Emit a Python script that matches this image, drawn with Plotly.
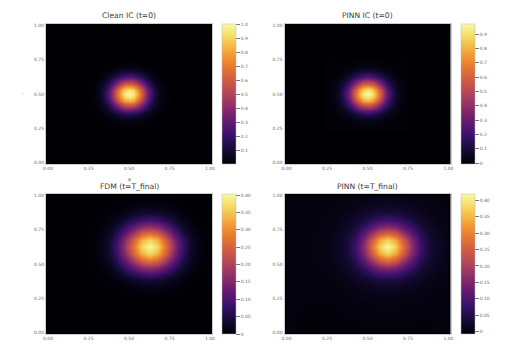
import plotly.graph_objects as go

# Grid coordinates of the hand-read cells
ic_x = [0.25, 0.275, 0.30, 0.325, 0.35, 0.375, 0.40, 0.425, 0.45, 0.475, 0.50,
        0.525, 0.55, 0.575, 0.60, 0.625, 0.65, 0.675, 0.70, 0.725, 0.75]
ic_y = ic_x
fdm_x = [0.275, 0.325, 0.375, 0.425, 0.475, 0.525, 0.575, 0.625,
         0.675, 0.725, 0.775, 0.825, 0.875, 0.925, 0.975]
fdm_y = fdm_x
pinn_x = [0.025, 0.075, 0.125, 0.175, 0.225, 0.275, 0.325, 0.375, 0.425, 0.475,
          0.525, 0.575, 0.625, 0.675, 0.725, 0.775, 0.825, 0.875, 0.925, 0.975]
pinn_y = pinn_x

# The first three fields look mirror-symmetric, so only the lower left quadrant
# is kept (outer edge first, peak last) and unfolded below.
clean_ic_quadrant = [
    [0, 0, 0, 0, 0, .001, .002, .003, .004, .005, .005],
    [0, 0, 0, 0, .002, .004, .006, .01, .01, .01, .01],
    [0, 0, .001, .002, .005, .01, .01, .02, .03, .03, .03],
    [0, 0, .002, .005, .01, .02, .03, .05, .06, .07, .07],
    [0, .002, .005, .01, .02, .04, .06, .09, .12, .14, .15],
    [.001, .004, .01, .02, .04, .07, .11, .16, .21, .25, .27],
    [.002, .006, .01, .03, .06, .11, .18, .27, .35, .41, .43],
    [.003, .01, .02, .05, .09, .16, .27, .38, .50, .59, .62],
    [.004, .01, .03, .06, .12, .21, .35, .50, .65, .77, .81],
    [.005, .01, .03, .07, .14, .25, .41, .59, .77, .90, .95],
    [.005, .01, .03, .07, .15, .27, .43, .62, .81, .95, 1.0],
]

pinn_ic_quadrant = [
    [0, 0, 0, 0, 0, .001, .002, .003, .004, .005, .005],
    [0, 0, 0, 0, .002, .004, .006, .01, .01, .01, .01],
    [0, 0, .001, .002, .005, .01, .01, .02, .03, .03, .03],
    [0, 0, .002, .005, .01, .02, .03, .05, .06, .07, .07],
    [0, .002, .005, .01, .02, .04, .06, .09, .12, .14, .15],
    [.001, .004, .01, .02, .04, .07, .11, .16, .20, .24, .26],
    [.002, .006, .01, .03, .06, .11, .17, .26, .34, .40, .42],
    [.003, .01, .02, .05, .09, .16, .26, .37, .49, .57, .60],
    [.004, .01, .03, .06, .12, .20, .34, .49, .63, .75, .79],
    [.005, .01, .03, .07, .14, .24, .40, .57, .75, .87, .92],
    [.005, .01, .03, .07, .15, .26, .42, .60, .79, .92, .97],
]

fdm_final_quadrant = [
    [0, 0, 0, .001, .002, .003, .004, .004],
    [0, .001, .001, .003, .006, .009, .012, .013],
    [0, .001, .004, .008, .016, .026, .034, .038],
    [.001, .003, .008, .019, .038, .06, .08, .088],
    [.002, .006, .016, .038, .073, .117, .156, .171],
    [.003, .009, .026, .06, .117, .188, .249, .274],
    [.004, .012, .034, .08, .156, .249, .331, .364],
    [.004, .013, .038, .088, .171, .274, .364, .40],
]

pinn_final = [
    [.001, -.002, -.004, -.005, -.005, -.004, -.003, -.002, -.002, -.001, -.001, -.001, -.001, -.001, -.001, -.001, -.002, -.001, 0, 0],
    [.001, -.002, -.004, -.004, -.004, -.003, -.002, -.001, -.001, 0, 0, 0, 0, 0, 0, 0, -.001, -.001, 0, 0],
    [.001, -.001, -.003, -.003, -.003, -.002, -.001, 0, 0, .001, .001, .001, .001, .001, .001, .001, 0, 0, 0, 0],
    [.001, 0, -.002, -.002, -.002, -.001, 0, .001, .001, .002, .003, .003, .003, .003, .003, .002, .001, .001, 0, 0],
    [.002, .001, 0, -.001, -.001, 0, .001, .002, .003, .004, .005, .006, .006, .006, .005, .004, .003, .002, .001, 0],
    [.002, .002, .001, .001, 0, .001, .002, .004, .006, .008, .009, .011, .011, .011, .009, .008, .006, .004, .002, .001],
    [.003, .002, .002, .002, .001, .002, .004, .007, .01, .013, .017, .02, .021, .02, .017, .013, .01, .007, .004, .002],
    [.003, .003, .003, .002, .002, .004, .007, .011, .017, .024, .032, .039, .041, .039, .032, .024, .017, .011, .007, .004],
    [.003, .003, .003, .003, .003, .006, .01, .017, .027, .041, .059, .076, .083, .076, .059, .041, .027, .017, .01, .006],
    [.004, .004, .003, .003, .004, .008, .013, .024, .041, .07, .109, .145, .16, .145, .109, .07, .041, .024, .013, .008],
    [.004, .004, .004, .004, .005, .009, .017, .032, .059, .109, .177, .242, .27, .242, .177, .109, .059, .032, .017, .009],
    [.004, .004, .004, .004, .006, .011, .02, .039, .076, .145, .242, .334, .375, .334, .242, .145, .076, .039, .02, .011],
    [.004, .004, .004, .004, .006, .011, .021, .041, .083, .16, .27, .375, .42, .375, .27, .16, .083, .041, .021, .011],
    [.004, .004, .004, .004, .006, .011, .02, .039, .076, .145, .242, .334, .375, .334, .242, .145, .076, .039, .02, .011],
    [.004, .004, .004, .004, .005, .009, .017, .032, .059, .109, .177, .242, .27, .242, .177, .109, .059, .032, .017, .009],
    [.004, .004, .003, .003, .004, .008, .013, .024, .041, .07, .109, .145, .16, .145, .109, .07, .041, .024, .013, .008],
    [.003, .003, .003, .003, .003, .006, .01, .017, .027, .041, .059, .076, .083, .076, .059, .041, .027, .017, .01, .006],
    [.003, .003, .003, .002, .002, .004, .007, .011, .017, .024, .032, .039, .041, .039, .032, .024, .017, .011, .007, .004],
    [.003, .002, .002, .002, .001, .002, .004, .007, .01, .013, .017, .02, .021, .02, .017, .013, .01, .007, .004, .002],
    [.002, .002, .001, .001, 0, .001, .002, .004, .006, .008, .009, .011, .011, .011, .009, .008, .006, .004, .002, .001],
]

axis_ticks = [0, 0.25, 0.5, 0.75, 1]
axis_labels = ["0.00", "0.25", "0.50", "0.75", "1.00"]
clean_ticks = [.1, .2, .3, .4, .5, .6, .7, .8, .9, 1.0]
clean_labels = ["0.1", "0.2", "0.3", "0.4", "0.5", "0.6", "0.7", "0.8", "0.9", "1.0"]
pinn_ic_ticks = [0, .1, .2, .3, .4, .5, .6, .7, .8, .9]
pinn_ic_labels = ["0", "0.1", "0.2", "0.3", "0.4", "0.5", "0.6", "0.7", "0.8", "0.9"]
final_ticks = [0, .05, .10, .15, .20, .25, .30, .35, .40]
final_labels = ["0", "0.05", "0.10", "0.15", "0.20", "0.25", "0.30", "0.35", "0.40"]

# inferno as it looks in the picture, softer than the stock scale
soft_inferno = [
    [0.0, "#000004"], [0.1, "#140b34"], [0.2, "#38116a"], [0.3, "#621a70"],
    [0.4, "#8a2c68"], [0.5, "#b0445a"], [0.6, "#d25c42"], [0.7, "#e87a30"],
    [0.8, "#f3a63a"], [0.9, "#f4d65e"], [1.0, "#f8faa4"],
]

W, H = 510, 360
FONT = "DejaVu Sans"
TICK_FONT = dict(family=FONT, size=4.5, color="#666666")
BLACK = "#000004"


def unfold(quadrant):
    rows = [row + row[-2::-1] for row in quadrant]
    return rows + rows[-2::-1]


# title, x, y, z, zmin, zmax, ticks, labels, plot left px, bar left px, plot top px
panels = [
    ("Clean IC (t=0)", ic_x, ic_y, unfold(clean_ic_quadrant), 0.0, 1.0, clean_ticks, clean_labels, 46, 222, 24),
    ("PINN IC (t=0)", ic_x, ic_y, unfold(pinn_ic_quadrant), -0.007, 0.97, pinn_ic_ticks, pinn_ic_labels, 284.5, 461, 24),
    ("FDM (t=T_final)", fdm_x, fdm_y, unfold(fdm_final_quadrant), 0.0, 0.403, final_ticks, final_labels, 46, 222, 194),
    ("PINN (t=T_final)", pinn_x, pinn_y, pinn_final, -0.008, 0.42, final_ticks, final_labels, 284.5, 461, 194),
]
PLOT_W, PLOT_H = 166, 140

fig = go.Figure()
annotations = []
for i, (title, x, y, z, zmin, zmax, ticks, labels, left, bar_left, top) in enumerate(panels, start=1):
    suffix = "" if i == 1 else str(i)
    fig.add_trace(go.Heatmap(
        x=x, y=y, z=z, zmin=zmin, zmax=zmax,
        colorscale=soft_inferno, zsmooth="best",
        xaxis=f"x{suffix}", yaxis=f"y{suffix}",
        colorbar=dict(
            x=bar_left / W, xanchor="left", xpad=0,
            y=1 - top / H, yanchor="top", ypad=0,
            len=PLOT_H, lenmode="pixels",
            thickness=14, thicknessmode="pixels",
            outlinewidth=0.5, outlinecolor="#bbbbbb",
            ticks="outside", ticklen=4, tickwidth=0.6, tickcolor="#777777",
            tickvals=ticks, ticktext=labels, tickfont=TICK_FONT,
        ),
    ))
    axis = dict(
        range=[-0.0125, 1.0125], tickvals=axis_ticks, ticktext=axis_labels,
        tickfont=TICK_FONT, ticks="", showgrid=False, zeroline=False,
        showline=True, mirror=True, linecolor="#cccccc", linewidth=1,
    )
    fig.update_layout({
        f"xaxis{suffix}": dict(axis, domain=[left / W, (left + PLOT_W) / W], anchor=f"y{suffix}"),
        f"yaxis{suffix}": dict(axis, domain=[1 - (top + PLOT_H) / H, 1 - top / H], anchor=f"x{suffix}"),
    })
    annotations.append(dict(
        text=title, x=(left + PLOT_W / 2) / W, y=1 - (top - 8) / H,
        xref="paper", yref="paper", showarrow=False,
        xanchor="center", yanchor="middle",
        font=dict(family=FONT, size=7.6, color="#3a3a3a"),
    ))

# axis labels, only the first panel has them
annotations.append(dict(text="x", x=129 / W, y=1 - 178.5 / H, xref="paper", yref="paper",
                        xanchor="center", yanchor="middle", showarrow=False,
                        font=dict(family=FONT, size=5, color="#444444")))
annotations.append(dict(text=".", x=22.5 / W, y=1 - 92.5 / H, xref="paper", yref="paper",
                        xanchor="center", yanchor="middle", showarrow=False,
                        font=dict(family=FONT, size=5, color="#444444")))

fig.update_layout(
    width=W, height=H,
    margin=dict(l=0, r=0, t=0, b=0, autoexpand=False),
    paper_bgcolor="white", plot_bgcolor=BLACK,
    annotations=annotations,
    font=dict(family=FONT),
)

# the page's default 8px body margin would shift everything
fig.write_html("out.html", config={"displayModeBar": False},
               post_script="document.body.style.margin='0';")
